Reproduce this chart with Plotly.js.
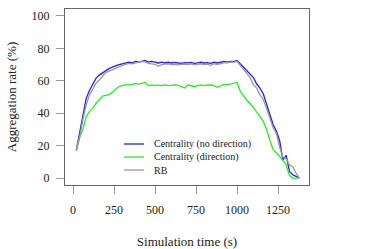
<!DOCTYPE html>
<html><head><meta charset="utf-8">
<script src="https://cdn.plot.ly/plotly-3.0.1.min.js"></script>
<style>html,body{margin:0;padding:0;background:#fff}#c{width:374px;height:249px}</style>
</head><body><div id="c"></div>
<script>
const time = [];
for (let t = 20; t <= 1380; t += 20) time.push(t);
const noDirection = [17,28,40,49,54,58,61.5,63.5,65,66.5,67.5,68.5,69.5,70,70.5,71,71.5,71,72,71.5,72,72.5,71.5,72,71.5,71,71.5,71,71.5,71,71.3,71,70.8,71.2,71,71.3,70.8,71,71.5,71,71.2,70.8,71.5,71,71.3,72,71.5,72,71.8,72.5,70.5,68.5,66.5,64,62,58,55.5,52,46,40,33,29,23,11,14,4,2,1,0];
const direction = [17,25,30,38,41,43,46,48.5,50.5,51,51.5,53,55,56.5,57,57.5,57.5,58,58.3,58,58.5,59,57,57.5,57,57.5,57,57.5,57,57.3,57.5,57.3,56.5,55.5,57.4,57,56.5,57,57.5,57,57.5,57.4,57,56,57,57.8,57.5,58,58.5,59,53.5,50.5,48,46,43.5,41,38,35,30,23.5,17.5,15.5,13.5,11,8,1.5,0,0,0];
const rb = [17,25,36,45,51,55,58.5,60.5,63,65,66,67,68,68.5,69.5,70.2,70.8,70.5,71.2,71.5,72,71.8,70.8,70.5,70.2,69,70,70.3,70.5,70,70.2,69.8,70,70.3,70,70.5,69.8,70,70.5,70,70.2,69.5,70.5,70,70.5,71,71,71.5,71.5,72,69.5,67,64.5,62,57.5,55.5,51.5,48.5,43,37,31,27.5,19,13,12,8,7,3,0];
const names = ["Centrality (no direction)", "Centrality (direction)", "RB"];
const colors = ["#1f1fff", "#22ee22", "#999999"];
const xTicks = [0,250,500,750,1000,1250];
const yTicks = [0,20,40,60,80,100];

const series = [noDirection, direction, rb];
const traces = series.map((s,i)=>({x: time, y: s, type:'scatter', mode:'lines', name: names[i], showlegend:false, line:{color: colors[i], width:1.3}}));

const fontF = "'Liberation Serif', 'Times New Roman', Times, serif";
// manual legend (paper coordinates)
const legY = [0.233, 0.159, 0.085];
const shapes = names.map((n,i)=>({type:'line', xref:'paper', yref:'paper', x0:0.242, x1:0.324, y0:legY[i], y1:legY[i], line:{color:colors[i], width:1.3}}));
const annotations = names.map((n,i)=>({text:n, xref:'paper', yref:'paper', x:0.355, y:legY[i], xanchor:'left', yanchor:'middle', showarrow:false, font:{size:10, family:fontF, color:'#222'}}));

const layout = {
  width:374, height:249,
  margin:{l:65, r:65, t:9, b:64},
  paper_bgcolor:'#fff', plot_bgcolor:'#fff',
  font:{family: fontF, size:12, color:'#222'},
  showlegend:false,
  shapes: shapes, annotations: annotations,
  xaxis:{range:[-49,1439], tickvals:xTicks, ticktext:xTicks.map(String), ticks:'outside', ticklen:8, tickcolor:'#999', showgrid:false, zeroline:false,
    showline:true, mirror:true, linecolor:'#666', linewidth:1, ticklabelstandoff:6,
    title:{text:'Simulation time (s)', standoff:21, font:{size:13, family:fontF}}},
  yaxis:{range:[-4.3,104.3], tickvals:yTicks, ticktext:yTicks.map(String), ticks:'outside', ticklen:8, tickcolor:'#999', showgrid:false, zeroline:false,
    showline:true, mirror:true, linecolor:'#666', linewidth:1, ticklabelstandoff:4,
    title:{text:'Aggregation rate (%)', standoff:12, font:{size:13, family:fontF}}}
};
Plotly.newPlot('c', traces, layout, {staticPlot:true, displayModeBar:false});
</script></body></html>
